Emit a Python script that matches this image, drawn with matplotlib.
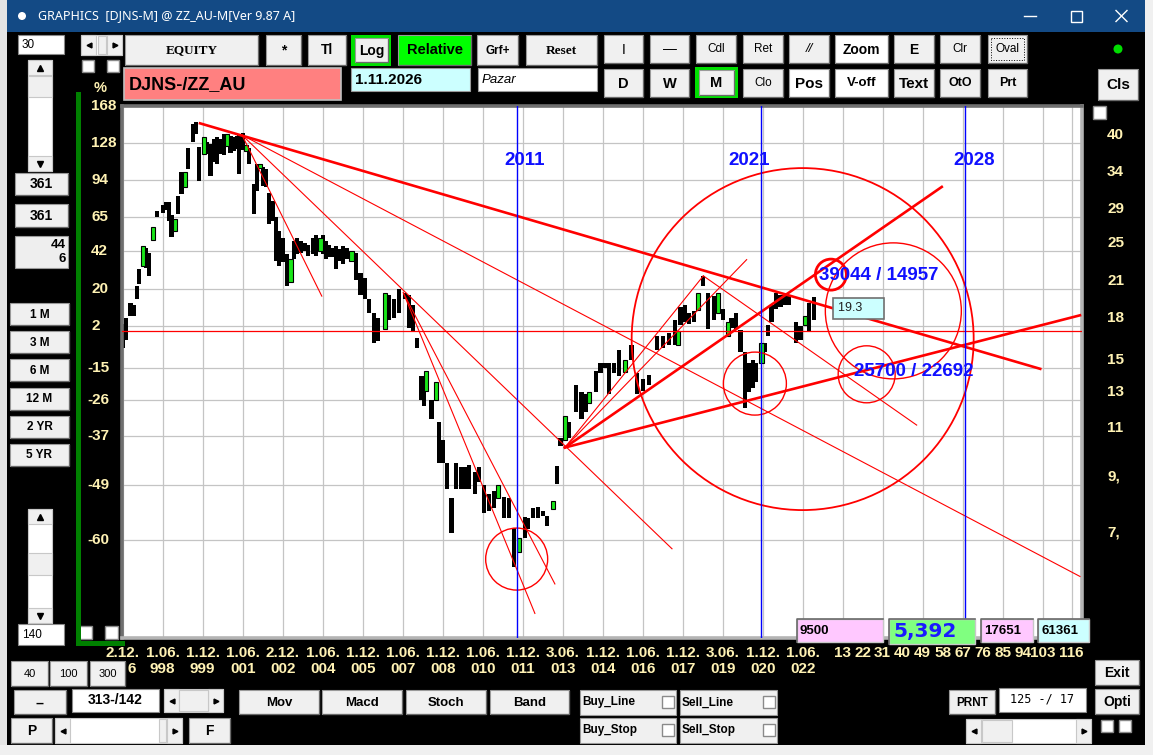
import numpy as np
import matplotlib
matplotlib.use('Agg')
import matplotlib.pyplot as plt
import matplotlib.transforms as mtransforms
from matplotlib.patches import Rectangle, Circle
from matplotlib.ticker import NullLocator

# ---------------- data ----------------
# bars: month counted from 2.12.1996, high / low in % relative to start
bar_m = [0, 1.5, 3.5, 5, 6.5, 7.5, 9, 10.5, 12, 13.5,
         15.5, 18, 19.5, 21, 22, 23.5, 25, 26.5, 28, 29.5,
         31.5, 33, 34.5, 36.5, 38, 39.5, 41, 42.5, 44, 45.5,
         47, 48.5, 50, 51.5, 52.5, 54, 55.5, 57, 59, 60.5,
         61.8, 63, 64.5, 66, 67.5, 69, 70.5, 72, 74, 75.5,
         77, 78.5, 80, 82, 83.5, 85.5, 87, 89, 90, 91.5,
         93, 94.5, 96, 97.5, 99, 101, 103, 105, 107, 109,
         111, 113, 115, 118, 120, 122, 124.5, 127, 129, 130.5,
         132.5, 134.5, 135.5, 136.5, 139, 141, 142.5, 144, 146, 148,
         150, 152.5, 154, 156, 158.5, 160.5, 162.5, 165, 167, 169,
         171.5, 174, 176, 178.5, 181, 182.5, 184.5, 187, 189, 191,
         193.5, 195.5, 197, 199, 201, 204, 206.5, 208.5, 210, 213,
         215, 217, 219, 221, 223.5, 226, 229, 231.5, 234, 237,
         240.5, 243, 246, 248.5, 249.8, 251, 253, 255, 257, 259,
         261, 263.5, 266, 268, 270, 272.5, 274, 276, 278, 280,
         282, 283.5, 285, 287.5, 289, 290.5, 292, 294, 296, 298,
         300, 303, 305, 307, 309, 311]
bar_hi = [3, 6, 13, 12, 22, 31, 45, 44, 41, 58,
          69, 74, 76, 76, 66, 63, 81, 101, 101, 123,
          148, 150, 124, 134, 129, 127, 132, 134, 132, 137,
          137, 135, 134, 135, 137, 138, 126, 123, 90, 108,
          108, 105, 103, 83, 77, 65, 55, 50, 40, 37,
          48, 50, 48, 47, 46, 50, 52, 50, 52, 48,
          46, 44, 45, 43, 45, 44, 42, 41, 29, 26,
          15, 8, 6, 18, 17, 15, 20, 18, 17, 12,
          -3, -18, -22, -16, -26, -20, -33, -38, -44, -52,
          -44, -45, -45, -44.5, -46, -45, -49, -51, -50.5, -49,
          -51.8, -52, -57.8, -59.7, -55.8, -56, -54, -53.7, -54.6, -55.6,
          -52.6, -44.6, -37.5, -31, -33, -21, -23.5, -24, -23.5, -16,
          -13, -13, -13, -13, -8, -12, -6, -17, -19, -17.6,
          -2, -2, -1, 5, 0, 11, 12, 8, 9, 18,
          27, 18, 16.5, 18, 10, 4, 6, 8, 0.5, -9,
          -13, -12, -13, -5, -5, 2.5, 12, 18, 17, 16.5,
          17, 4, 2, 7, 13, 16]
bar_lo = [-7, -4, 7, 7, 15, 23, 33, 32, 27, 49,
          65, 68, 70, 62, 51, 55, 67, 82, 88, 103,
          129, 137, 93, 117, 117, 97, 110, 108, 117, 116,
          125, 118, 120, 122, 99, 121, 120, 108, 67, 85,
          104, 89, 88, 60, 62, 36, 33, 35, 22, 24,
          37, 40, 41, 42, 39, 40, 39, 42, 40, 37,
          38, 38, 31, 36, 34, 37, 36, 25, 17, 15,
          8, -5, -4.5, 1, 5, 6, 8, 15, 1.5, 0,
          -7, -26, -28, -23, -32, -26, -44, -44, -50, -58.7,
          -50, -50, -50, -50, -51, -48.5, -55, -54.6, -54, -52,
          -56, -56, -64.5, -62, -59.7, -58, -56, -56, -55.6, -57.4,
          -54.2, -48.8, -39.5, -38, -37.5, -30, -32, -30, -27, -23.5,
          -17, -15, -24, -17, -18, -16.5, -12, -24, -23, -21,
          -8, -7, -6, -6, -6, 2.5, 4, 3, 4, 9.5,
          22, 1, 5, 8, 5, -2, 1.5, 1, -9, -28.5,
          -23.5, -22, -20, -13, -9, -2, 4, 10, 11, 12,
          12, -5, -4, 2.5, -0.6, 5]
green_m = [9, 13.5, 23.5, 28, 36.5, 47, 55.5, 61.8, 75.5, 89, 103, 118, 136.5,
           141, 169, 178.5, 193.5, 199, 210, 226, 249.8, 259, 268, 272.5, 287.5, 307]

# trend lines (month, %) -> (month, %)
thin_start_m = [53.7, 53.7, 53.7, 126.3, 126.3, 199.0, 199.0, 261.3]
thin_start_p = [136.0, 136.0, 136.0, 18.2, 18.2, -40.0, -40.0, 27.3]
thin_end_m = [430.8, 247.2, 89.6, 185.5, 194.5, 261.3, 280.8, 357.3]
thin_end_p = [-65.9, -61.5, 16.5, -71.0, -67.0, 27.3, 36.7, -33.8]
thick_start_m = [34.8, 199.0, 199.0]
thick_start_p = [148.4, -40.0, -40.0]
thick_end_m = [412.9, 368.6, 430.8]
thick_end_p = [-15.3, 88.0, 7.1]

# circles: centre (month, %)
circ_m = [177.3, 284.5, 306.0, 346.8, 318.7, 334.8]
circ_p = [-63.2, -20.6, -3.5, 9.2, 28.0, -17.3]
circ_r_px = [31, 31.5, 171, 68, 15.5, 28.5]
circ_lw = [1.0, 1.0, 1.3, 1.0, 2.0, 1.0]

event_m = [177.3, 287.4, 379.2]
event_labels = ['2011', '2021', '2028']
event_label_m = [181, 281.8, 383]
event_label_p = 110.8

left_vals = [168, 128, 94, 65, 42, 20, 2, -15, -26, -37, -49, -60]
right_labels = ['', '40', '34', '29', '25', '21', '18', '15', '13', '11', '9,', '7,']

date_top = ['2.12.', '1.06.', '1.12.', '1.06.', '2.12.', '1.06.', '1.12.', '1.06.', '1.12.',
            '1.06.', '1.12.', '3.06.', '1.12.', '1.06.', '1.12.', '3.06.', '1.12.', '1.06.']
date_bot = ['6', '998', '999', '001', '002', '004', '005', '007', '008',
            '010', '011', '013', '014', '016', '017', '019', '020', '022']
future_bars = [13, 22, 31, 40, 49, 58, 67, 76, 85, 94, 103, 116]
last_bar = 311

# ---------------- layout ----------------
W, H = 1153, 755
AX_L, AX_R, AX_T, AX_B = 122, 1082, 106, 638
SANS = ['Liberation Sans', 'DejaVu Sans']
NARROW = ['Liberation Sans Narrow', 'Liberation Sans', 'DejaVu Sans']
SERIF = ['Liberation Serif', 'DejaVu Serif']
CREAM = '#fff2b4'


def ratio(v):
    return 1 + np.asarray(v, dtype=float) / 100.0


def fx(px):
    return (px - AX_L) / (AX_R - AX_L)


def fy(py):
    return (AX_B - py) / (AX_B - AX_T)


fig = plt.figure(figsize=(W / 100, H / 100), dpi=100, facecolor='black')

# ---------------- chart ----------------
ax = fig.add_axes([AX_L / W, 1 - AX_B / H, (AX_R - AX_L) / W, (AX_B - AX_T) / H])
ax.set_zorder(1)
ax.set_facecolor('white')
ax.set_yscale('log')
ax.set_xlim(-0.3, 431.7)
ax.set_ylim(0.2604, 2.631)
ax.set_xticks(list(range(0, 415, 18)) + [last_bar + future_bars[-1]])
ax.set_yticks(ratio(left_vals))
ax.yaxis.set_minor_locator(NullLocator())
ax.tick_params(length=0, labelleft=False, labelbottom=False)
ax.grid(True, color='#c4c4c4', lw=0.9)
ax.set_axisbelow(True)
for side, col in [('left', '#6f6f6f'), ('top', '#6f6f6f'), ('right', '#b4b4b4'), ('bottom', '#b4b4b4')]:
    ax.spines[side].set_color(col)
    ax.spines[side].set_linewidth(2.6)

bm = np.array(bar_m)
hi = ratio(bar_hi)
lo = ratio(bar_lo)
is_green = np.isin(bm, green_m)
ax.bar(bm[~is_green], (hi - lo)[~is_green], bottom=lo[~is_green], width=1.9,
       color='black', zorder=2)
ax.bar(bm[is_green], (hi - lo)[is_green], bottom=lo[is_green], width=1.9,
       facecolor='#19e619', edgecolor='black', lw=0.8, zorder=2.1)

ax.axhline(1.0, color='#ff0000', lw=0.9, zorder=3)
for x0, p0, x1, p1 in zip(thin_start_m, thin_start_p, thin_end_m, thin_end_p):
    ax.plot([x0, x1], ratio([p0, p1]), color='#ff0000', lw=0.8, zorder=3)
for x0, p0, x1, p1 in zip(thick_start_m, thick_start_p, thick_end_m, thick_end_p):
    ax.plot([x0, x1], ratio([p0, p1]), color='#ff0000', lw=1.9, zorder=3)
for cm, cp, r, lw in zip(circ_m, circ_p, circ_r_px, circ_lw):
    ax.scatter([cm], ratio([cp]), s=(2 * r * 0.72) ** 2, facecolors='none',
               edgecolors='#ff0000', linewidths=lw, zorder=3)

for m in event_m:
    ax.axvline(m, color='#0000ff', lw=1.0, zorder=3)
for m, s in zip(event_label_m, event_labels):
    ax.text(m, ratio(event_label_p), s, color='#1010ff', fontsize=13.5, fontweight='bold',
            family=SANS, ha='center', va='center', zorder=4)

ax.text(340.3, ratio(27.3), '39044 / 14957', color='#1010ff', fontsize=13.5,
        fontweight='bold', family=SANS, ha='center', va='center', zorder=4)
ax.text(356.2, ratio(-16.1), '25700 / 22692', color='#1010ff', fontsize=13.5,
        fontweight='bold', family=SANS, ha='center', va='center', zorder=4)
ax.text(321.8, ratio(10.5), '19.3     ', color='#202020', fontsize=9, family=SANS,
        ha='left', va='center', zorder=5,
        bbox=dict(boxstyle='square,pad=0.35', facecolor='#ccffff', edgecolor='#707070', lw=1.2))

# axis labels
yax = mtransforms.blended_transform_factory(ax.transAxes, ax.transData)
right_tr = mtransforms.offset_copy(yax, fig=fig, y=8, units='dots')
for v, rl in zip(left_vals, right_labels):
    xpos = fx(87) if v < 0 else fx(91)
    ax.text(xpos, ratio(v), str(v), color=CREAM, fontsize=11, fontweight='bold',
            family=NARROW, ha='left', va='center', transform=yax, clip_on=False)
    if rl:
        ax.text(fx(1107), ratio(v), rl, color=CREAM, fontsize=11, fontweight='bold',
                family=NARROW, ha='left', va='center', transform=right_tr, clip_on=False)

xax = mtransforms.blended_transform_factory(ax.transData, ax.transAxes)
first_tr = mtransforms.offset_copy(xax, fig=fig, x=5, units='dots')
for i, (t, b) in enumerate(zip(date_top, date_bot)):
    ax.text(18 * i, fy(653), t, color=CREAM, fontsize=11, fontweight='bold', family=NARROW,
            ha='center', va='center', transform=xax, clip_on=False)
    ax.text(18 * i, fy(669), b, color=CREAM, fontsize=11, fontweight='bold', family=NARROW,
            ha='left' if i == 0 else 'center', va='center',
            transform=first_tr if i == 0 else xax, clip_on=False)
for n in future_bars:
    ax.text(last_bar + n, fy(653), str(n), color=CREAM, fontsize=11, fontweight='bold',
            family=NARROW, ha='center', va='center', transform=xax, clip_on=False)

# ---------------- window chrome ----------------
ui = fig.add_axes([0, 0, 1, 1])
ui.set_zorder(2)
ui.set_xlim(0, W)
ui.set_ylim(H, 0)
ui.axis('off')
ui.patch.set_alpha(0)


def box(x0, y0, x1, y1, face='#f0f0f0', edge='#9a9a9a', lw=0.8, ls='-'):
    ui.add_patch(Rectangle((x0, y0), x1 - x0, y1 - y0, facecolor=face, edgecolor=edge,
                           lw=lw, ls=ls))


def label(x, y, s, size=9, weight='bold', color='black', ha='center', family=SANS, style='normal'):
    ui.text(x, y, s, ha=ha, va='center', fontsize=size, fontweight=weight, color=color,
            family=family, fontstyle=style)


def button(x0, y0, x1, y1, s, size=9, weight='bold', family=SANS, face='#f0f0f0', style='normal'):
    box(x0, y0, x1, y1, face=face)
    ui.plot([x0 + 1, x1, x1], [y1, y1, y0 + 1], color='#6a6a6a', lw=0.9)
    label((x0 + x1) / 2, (y0 + y1) / 2 + 0.5, s, size, weight, family=family, style=style)


def check(x0, y0, size=12):
    box(x0, y0, x0 + size, y0 + size, face='white', edge='#8a8a8a', lw=1.0)


def sunken(x0, y0, x1, y1, face):
    box(x0, y0, x1, y1, face=face, edge='#c8c8c8', lw=1.0)
    ui.plot([x0, x0, x1], [y1, y0, y0], color='#6a6a6a', lw=1.2)


def vscroll(x0, y0, x1, y1, t0, t1):
    box(x0, y0, x1, y1, face='white', edge='#c8c8c8')
    box(x0, y0, x1, y0 + 15, face='#f0f0f0', edge='#c8c8c8')
    box(x0, y1 - 15, x1, y1, face='#f0f0f0', edge='#c8c8c8')
    box(x0, t0, x1, t1, face='#f0f0f0', edge='#c8c8c8')
    ui.plot([(x0 + x1) / 2], [y0 + 8], marker='^', ms=4, color='black')
    ui.plot([(x0 + x1) / 2], [y1 - 7], marker='v', ms=4, color='black')


def hscroll(x0, y0, x1, y1, t0, t1):
    box(x0, y0, x1, y1, face='white', edge='#c8c8c8')
    box(x0, y0, x0 + 15, y1, face='#f0f0f0', edge='#c8c8c8')
    box(x1 - 15, y0, x1, y1, face='#f0f0f0', edge='#c8c8c8')
    box(t0, y0 + 1, t1, y1 - 1, face='#f0f0f0', edge='#c8c8c8')
    ui.plot([x0 + 7.5], [(y0 + y1) / 2], marker='<', ms=3.5, color='black')
    ui.plot([x1 - 7.5], [(y0 + y1) / 2], marker='>', ms=3.5, color='black')


# desktop strips and title bar
box(0, 0, 7, H, face='#e4e4e4', edge='none')
box(1145, 0, W, H, face='#f0f0f0', edge='none')
box(0, 745, W, H, face='#f0f0f0', edge='none')
box(7, 0, 1145, 32, face='#134a85', edge='none')
ui.add_patch(Circle((22, 16), 4, facecolor='white', edgecolor='none'))
label(38, 16, 'GRAPHICS  [DJNS-M] @ ZZ_AU-M[Ver 9.87 A]', size=9, weight='normal',
      color='white', ha='left', family=['Noto Sans', 'DejaVu Sans'])
ui.plot([1024, 1036], [16, 16], color='white', lw=1.0)
box(1071, 11, 1082, 22, face='none', edge='white', lw=1.0)
ui.plot([1116, 1127], [10.5, 21.5], color='white', lw=1.0)
ui.plot([1116, 1127], [21.5, 10.5], color='white', lw=1.0)

# top rows
box(18, 35, 64, 54, face='white', edge='#8a8a8a')
label(22, 45, '30', size=8.5, weight='normal', ha='left')
hscroll(81, 35, 122, 55, 98, 106)
check(82, 60)
check(107, 60)
button(125, 35, 258, 65, 'EQUITY', size=9.5, family=SERIF)
button(266, 35, 301, 65, '*', size=10)
button(308, 35, 346, 65, 'Tl', size=10)
box(351, 35, 391, 66, face='#00e000', edge='none')
button(355, 38, 388, 62, 'Log', size=10)
button(398, 35, 471, 65, 'Relative', size=10.5, face='#00ff00')
button(477, 35, 518, 65, 'Grf+', size=8.5)
button(526, 35, 597, 65, 'Reset', size=9.5, family=SERIF)
button(604, 35, 643, 63, 'I', size=10, weight='normal')
button(650, 35, 689, 63, '\u2014', size=10, weight='normal')
button(696, 35, 736, 63, 'Cdl', size=8.5, weight='normal')
button(743, 35, 783, 63, 'Ret', size=8.5, weight='normal')
button(789, 35, 829, 63, '//', size=9.5, weight='normal', style='italic')
button(835, 35, 888, 63, 'Zoom', size=10, face='white')
button(894, 35, 934, 63, 'E', size=10)
button(940, 35, 980, 63, 'Clr', size=8.5, weight='normal')
button(988, 35, 1027, 63, 'Oval', size=8.5, weight='normal')
box(991, 38, 1024, 60, face='none', edge='black', lw=0.7, ls=':')
ui.add_patch(Circle((1118, 49), 4.5, facecolor='#00dd00', edgecolor='none'))

box(124, 68, 341, 100, face='#ff8080', edge='#c0c0c0', lw=1.2)
label(129, 85, 'DJNS-/ZZ_AU', size=13, ha='left')
box(351, 68, 470, 91, face='#ccffff', edge='#9a9a9a')
label(355, 80, '1.11.2026', size=11, ha='left')
box(478, 68, 597, 91, face='white', edge='#9a9a9a')
label(482, 80, 'Pazar', size=9.5, weight='normal', ha='left', style='italic')
button(604, 69, 643, 97, 'D', size=10.5)
button(650, 69, 689, 97, 'W', size=10.5)
box(695, 67, 738, 98, face='#00e000', edge='none')
button(699, 70, 734, 95, 'M', size=10.5)
button(743, 69, 783, 97, 'Clo', size=8.5, weight='normal')
button(789, 69, 829, 97, 'Pos', size=11, face='white')
button(835, 69, 888, 97, 'V-off', size=9.5, face='white')
button(894, 69, 934, 97, 'Text', size=11)
button(940, 69, 980, 97, 'OtO', size=9)
button(988, 69, 1027, 97, 'Prt', size=9)
button(1098, 69, 1138, 100, 'Cls', size=11)

# left panel
vscroll(28, 60, 52, 171, 76, 97)
button(15, 173, 68, 195, '361', size=10)
button(15, 204, 68, 227, '361', size=10)
box(15, 236, 68, 268, face='#eeeeee', edge='#9a9a9a')
label(66, 245, '44', size=9.5, ha='right')
label(66, 259, '6', size=9.5, ha='right')
for i, s in enumerate(['1 M', '3 M', '6 M', '12 M', '2 YR', '5 YR']):
    button(10, 303 + 28.2 * i, 69, 325 + 28.2 * i, s, size=8.5)
vscroll(28, 509, 52, 623, 553, 575)
box(18, 624, 64, 645, face='white', edge='#8a8a8a')
label(22, 635, '140', size=8.5, weight='normal', ha='left')
check(79, 626, 13)
check(105, 626, 13)
ui.plot([78, 78, 122], [94, 643, 643], color='#008000', lw=3.6, solid_joinstyle='miter')
label(100, 88, '%', size=10.5, color=CREAM, family=NARROW)
check(1093, 106, 13)

# bottom area
button(11, 661, 48, 686, '40', size=8, weight='normal')
button(50, 661, 87, 686, '100', size=8, weight='normal')
button(90, 661, 125, 686, '300', size=8, weight='normal')
button(14, 690, 66, 714, '--', size=10)
box(72, 689, 159, 712, face='white', edge='#8a8a8a')
label(115, 700, '313-/142', size=10)
hscroll(164, 689, 223, 712, 179, 208)
button(11, 718, 52, 743, 'P', size=10)
hscroll(55, 718, 182, 743, 159, 166)
button(189, 718, 230, 743, 'F', size=10)
for x0, x1, s in [(239, 319, 'Mov'), (322, 402, 'Macd'), (406, 486, 'Stoch'), (490, 569, 'Band')]:
    button(x0, 690, x1, 714, s, size=9.5)
for x0, x1, y0, s in [(580, 676, 690, 'Buy_Line'), (680, 777, 690, 'Sell_Line'),
                      (580, 676, 718, 'Buy_Stop'), (680, 777, 718, 'Sell_Stop')]:
    box(x0, y0, x1, y0 + 25, face='#f0f0f0', edge='#9a9a9a')
    label(x0 + 2, y0 + 12.5, s, size=8.5, ha='left')
    check(x1 - 14, y0 + 6, 12)

sunken(797, 619, 883, 642, '#ffc8ff')
label(800, 630.5, '9500', size=9.5, ha='left')
sunken(889, 619, 975, 644, '#80ff80')
label(893, 632, '5,392', size=14.5, color='#1a1aff', ha='left',
      family=['DejaVu Sans', 'Liberation Sans'])
sunken(981, 619, 1033, 642, '#ffc8ff')
label(984, 630.5, '17651', size=9.5, ha='left')
sunken(1038, 619, 1089, 642, '#ccffff')
label(1041, 630.5, '61361', size=9.5, ha='left')

button(949, 690, 995, 714, 'PRNT', size=8.5)
box(999, 688, 1086, 712, face='white', edge='#8a8a8a')
label(1042, 699, '125 -/ 17', size=8.5, weight='normal', family=['DejaVu Sans Mono'])
hscroll(966, 719, 1091, 743, 982, 1012)
button(1095, 660, 1139, 685, 'Exit', size=10)
button(1095, 689, 1139, 714, 'Opti', size=10)
check(1101, 720, 12)
check(1119, 720, 12)

fig.savefig('out.png', dpi=100, facecolor='black')
